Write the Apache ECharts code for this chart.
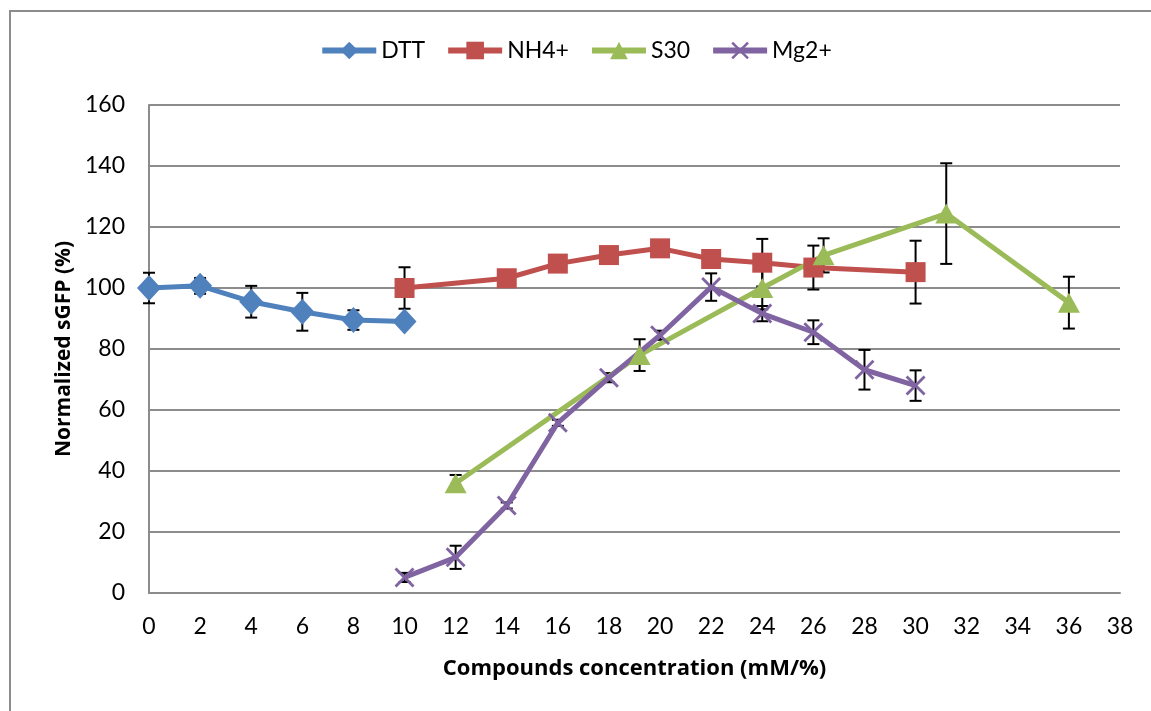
<!DOCTYPE html>
<html>
<head>
<meta charset="utf-8">
<script src="https://cdn.jsdelivr.net/npm/echarts@6.0.0/dist/echarts.min.js"></script>
<style>
html, body { margin: 0; padding: 0; background: #fff; }
#chart { width: 1151px; height: 711px; }
</style>
</head>
<body>
<div id="chart"></div>
<script>
"use strict";

// values
var dttX = [0, 2, 4, 6, 8, 10];
var dttY = [100, 100.7, 95.5, 92.2, 89.5, 89];
var dttErr = [5, 2.6, 5.2, 6.2, 3.2, 0];

var nh4X = [10, 14, 16, 18, 20, 22, 24, 26, 30];
var nh4Y = [100, 103.2, 108, 110.8, 113, 109.5, 108.3, 106.7, 105.2];
var nh4Err = [6.8, 1.5, 1.5, 1.5, 1.5, 1.5, 7.8, 7.2, 10.3];

var s30X = [12, 19.2, 24, 26.4, 31.2, 36];
var s30Y = [36, 78, 100, 110.7, 124.4, 95.2];
var s30Err = [2.7, 5.2, 7, 5.6, 16.5, 8.5];

var mgX = [10, 12, 14, 16, 18, 20, 22, 24, 26, 28, 30];
var mgY = [5.1, 11.7, 28.7, 55.8, 70.6, 84.5, 100.3, 91.6, 85.5, 73.2, 68];
var mgErr = [1.5, 3.8, 1, 1, 1.5, 1.5, 4.5, 2.5, 3.9, 6.5, 5];

var chart = echarts.init(document.getElementById('chart'));
var fontName = 'Lato';
var titleFont = 'Open Sans';

function pairs(xs, ys) {
	var out = [];
	for (var i = 0; i < xs.length; i++) {
		out.push([xs[i], ys[i]]);
	}
	return out;
}

function errData(xs, ys, errs) {
	var out = [];
	for (var i = 0; i < xs.length; i++) {
		if (errs[i] > 0) {
			out.push([xs[i], ys[i] - errs[i], ys[i] + errs[i]]);
		}
	}
	return out;
}

function renderErr(params, api) {
	var lo = api.coord([api.value(0), api.value(1)]);
	var hi = api.coord([api.value(0), api.value(2)]);
	var cap = 6;
	var st = { stroke: '#000', lineWidth: 2 };
	return {
		type: 'group',
		children: [
			{ type: 'line', shape: { x1: lo[0], y1: lo[1], x2: hi[0], y2: hi[1] }, style: st },
			{ type: 'line', shape: { x1: lo[0] - cap, y1: lo[1], x2: lo[0] + cap, y2: lo[1] }, style: st },
			{ type: 'line', shape: { x1: hi[0] - cap, y1: hi[1], x2: hi[0] + cap, y2: hi[1] }, style: st }
		]
	};
}

function errSeries(xs, ys, errs) {
	return {
		type: 'custom',
		renderItem: renderErr,
		data: errData(xs, ys, errs),
		encode: { x: 0, y: [1, 2] },
		z: 1,
		silent: true
	};
}

var crossPath = 'path://M0,1 L1,0 L10,9 L9,10 Z M9,0 L10,1 L1,10 L0,9 Z';

function lineSeries(name, xs, ys, color, symbol, size) {
	return {
		name: name,
		type: 'line',
		data: pairs(xs, ys),
		symbol: symbol,
		symbolSize: size,
		showAllSymbol: true,
		lineStyle: { color: color, width: 5 },
		itemStyle: { color: color },
		z: 3
	};
}

var option = {
	animation: false,
	backgroundColor: '#fff',
	textStyle: { fontFamily: fontName },
	graphic: [{
		type: 'rect',
		shape: { x: 10, y: 11, width: 1200, height: 760 },
		style: { fill: null, stroke: '#8c8c8c', lineWidth: 2 },
		silent: true
	}],
	legend: {
		top: 34,
		left: 'center',
		itemWidth: 54,
		itemHeight: 22,
		itemGap: 20,
		lineStyle: { width: 6 },
		textStyle: { fontSize: 23, color: '#000', fontFamily: fontName },
		data: ['DTT', 'NH4+', 'S30', 'Mg2+']
	},
	grid: { left: 149, right: 31, top: 105, bottom: 118 },
	xAxis: {
		type: 'value',
		min: 0,
		max: 38,
		interval: 2,
		name: 'Compounds concentration (mM/%)',
		nameLocation: 'middle',
		nameGap: 65,
		nameTextStyle: { fontSize: 22, fontWeight: 'bold', color: '#000', fontFamily: titleFont },
		axisLine: { show: true, lineStyle: { color: '#8c8c8c', width: 2 } },
		axisTick: { show: false },
		axisLabel: { fontSize: 23, color: '#000', margin: 22, fontFamily: fontName },
		splitLine: { show: false }
	},
	yAxis: {
		type: 'value',
		min: 0,
		max: 160,
		interval: 20,
		name: 'Normalized sGFP (%)',
		nameLocation: 'middle',
		nameGap: 74,
		nameTextStyle: { fontSize: 21, fontWeight: 'bold', color: '#000', fontFamily: titleFont },
		axisLine: { show: true, lineStyle: { color: '#8c8c8c', width: 2 } },
		axisTick: { show: false },
		axisLabel: { fontSize: 23, color: '#000', margin: 24, fontFamily: fontName },
		splitLine: { show: true, lineStyle: { color: '#8c8c8c', width: 2 } }
	},
	series: [
		errSeries(dttX, dttY, dttErr),
		errSeries(nh4X, nh4Y, nh4Err),
		errSeries(s30X, s30Y, s30Err),
		errSeries(mgX, mgY, mgErr),
		lineSeries('DTT', dttX, dttY, '#4f81bd', 'diamond', [24, 26]),
		lineSeries('NH4+', nh4X, nh4Y, '#c0504d', 'rect', 20),
		lineSeries('S30', s30X, s30Y, '#9bbb59', 'triangle', [22, 20]),
		lineSeries('Mg2+', mgX, mgY, '#8064a2', crossPath, 20)
	]
};

chart.setOption(option);
</script>
</body>
</html>
